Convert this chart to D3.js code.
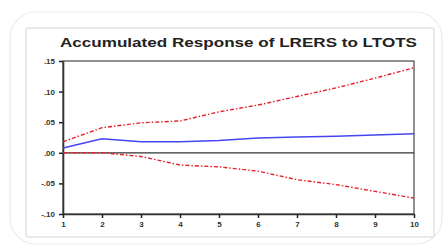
<!doctype html>
<html>
<head>
<title>Accumulated Response of LRERS to LTOTS</title>
<script src="https://d3js.org/d3.v7.min.js"></script>
<style>
 body { margin:0; background:#fff; }
 text { font-family: "Liberation Sans", Arial, sans-serif; }
</style>
</head>
<body>
<script>
// data
var periods  = [1, 2, 3, 4, 5, 6, 7, 8, 9, 10];
var response = [0.008, 0.023, 0.018, 0.018, 0.020, 0.024, 0.026, 0.027, 0.029, 0.031];
var upper    = [0.018, 0.041, 0.049, 0.052, 0.067, 0.078, 0.092, 0.106, 0.122, 0.139];
var lower    = [0.000, 0.000, -0.006, -0.020, -0.023, -0.030, -0.044, -0.052, -0.063, -0.074];
var yTicks   = [0.15, 0.10, 0.05, 0.00, -0.05, -0.10];
var yLabels  = [".15", ".10", ".05", ".00", "-.05", "-.10"];
var title    = "Accumulated Response of LRERS to LTOTS";

var W = 447, H = 249;
var svg = d3.select("body").append("svg")
  .attr("width", W).attr("height", H);

// outer rounded panel
svg.append("rect")
  .attr("x", 10).attr("y", 12).attr("width", 432).attr("height", 232)
  .attr("rx", 26).attr("fill", "#fff")
  .attr("stroke", "#ececec").attr("stroke-width", 1.2);
// inner frame
svg.append("rect")
  .attr("x", 26).attr("y", 28).attr("width", 408).attr("height", 209)
  .attr("rx", 2).attr("fill", "#fff")
  .attr("stroke", "#e4e4e4").attr("stroke-width", 1.5);

var x = d3.scaleLinear().domain([1, 10]).range([63, 414]);
var y = d3.scaleLinear().domain([-0.10, 0.15]).range([214, 61]);

// title
svg.append("text")
  .attr("x", 60).attr("y", 47)
  .attr("textLength", 357).attr("lengthAdjust", "spacingAndGlyphs")
  .attr("font-size", 13).attr("font-weight", "bold")
  .attr("fill", "#222")
  .text(title);

// plot frame
svg.append("rect")
  .attr("x", x(1)).attr("y", y(0.15))
  .attr("width", x(10) - x(1)).attr("height", y(-0.10) - y(0.15))
  .attr("fill", "none").attr("stroke", "#555").attr("stroke-width", 1.3);

// zero line
svg.append("line")
  .attr("x1", x(1)).attr("x2", x(10))
  .attr("y1", y(0)).attr("y2", y(0))
  .attr("stroke", "#333").attr("stroke-width", 1.2);

// axes
var yAxis = d3.axisLeft(y).tickValues(yTicks)
  .tickFormat(function(d, i) { return yLabels[i]; })
  .tickSize(4).tickSizeOuter(0).tickPadding(4);
var gy = svg.append("g").attr("transform", "translate(" + x(1) + ",0)").call(yAxis);

var xAxis = d3.axisBottom(x).tickValues(periods)
  .tickFormat(d3.format("d")).tickSize(4).tickSizeOuter(0).tickPadding(3);
var gx = svg.append("g").attr("transform", "translate(0," + y(-0.10) + ")").call(xAxis);

[gx, gy].forEach(function(g) {
  g.select(".domain").attr("stroke", "#333").attr("stroke-width", 1.6);
  g.selectAll(".tick line").attr("stroke", "#222").attr("stroke-width", 1.5);
  g.selectAll(".tick text").attr("font-size", 8).attr("font-weight", "bold")
    .attr("fill", "#333").attr("font-family", "Liberation Sans, Arial, sans-serif");
});

var line = d3.line()
  .x(function(d, i) { return x(periods[i]); })
  .y(function(d) { return y(d); });

// confidence bands
[upper, lower].forEach(function(s) {
  svg.append("path").datum(s)
    .attr("d", line)
    .attr("fill", "none")
    .attr("stroke", "#e8202a")
    .attr("stroke-width", 1.4)
    .attr("stroke-dasharray", "4 2 1.5 2");
});

// response
svg.append("path").datum(response)
  .attr("d", line)
  .attr("fill", "none")
  .attr("stroke", "#4646f0")
  .attr("stroke-width", 1.5);
</script>
</body>
</html>
